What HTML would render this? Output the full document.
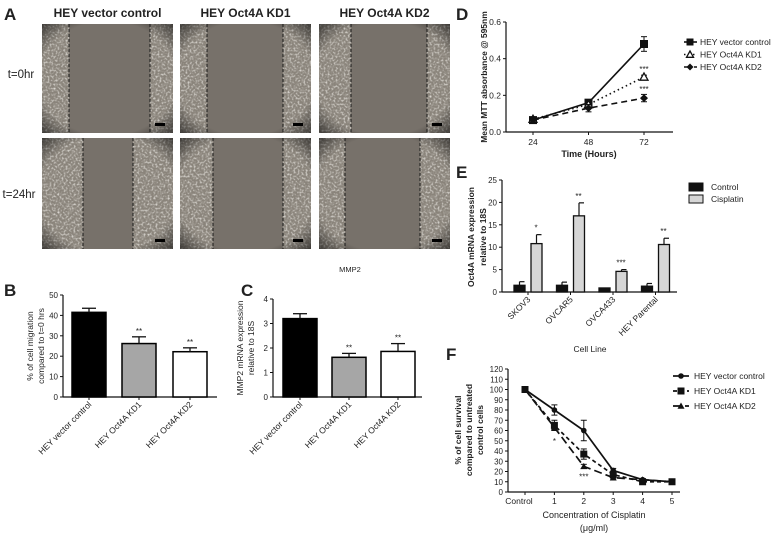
<!DOCTYPE html>
<html><head><meta charset="utf-8"><style>
html,body{margin:0;padding:0;background:#fff;width:778px;height:535px;overflow:hidden}
svg{display:block;font-family:"Liberation Sans",Arial,sans-serif}
</style></head><body>
<svg id="fig" width="778" height="535" viewBox="0 0 778 535" xmlns="http://www.w3.org/2000/svg">
<defs>
<filter id="tex" x="0" y="0" width="100%" height="100%">
<feTurbulence type="fractalNoise" baseFrequency="0.5" numOctaves="2" seed="3"/>
<feColorMatrix type="matrix" values="0 0 0 0 0.82  0 0 0 0 0.80  0 0 0 0 0.76  0 0 0 2.2 -1.0"/>
</filter>
<radialGradient id="vig" cx="50%" cy="50%" r="75%">
<stop offset="70%" stop-color="#000" stop-opacity="0"/>
<stop offset="100%" stop-color="#000" stop-opacity="0.7"/>
</radialGradient>
</defs>
</svg>
<script>
// ---------- data ----------
const bCats = ["HEY vector control","HEY Oct4A KD1","HEY Oct4A KD2"];
const bVals = [41.5, 26.2, 22.2];
const bErrs = [2.0, 3.3, 1.9];
const bStars = ["", "**", "**"];
const bTicks = [0,10,20,30,40,50];
const cVals = [3.2, 1.62, 1.86];
const cErrs = [0.2, 0.16, 0.32];
const cStars = ["", "**", "**"];
const cTicks = [0,1,2,3,4];
const dX = [24,48,72];
const dVector = [0.065,0.16,0.48];
const dVectorErr = [0.008,0.015,0.04];
const dKD1 = [0.07,0.15,0.30];
const dKD1Err = [0.006,0.01,0.01];
const dKD2 = [0.065,0.13,0.185];
const dKD2Err = [0.006,0.02,0.02];
const dTicks = [0.0,0.2,0.4,0.6];
const eCats = ["SKOV3","OVCAR5","OVCA433","HEY Parental"];
const eControl = [1.5,1.5,0.9,1.3];
const eControlErr = [0.8,0.7,0.0,0.6];
const eCis = [10.8,17.0,4.6,10.6];
const eCisErr = [2.0,2.9,0.4,1.4];
const eStars = ["*","**","***","**"];
const eTicks = [0,5,10,15,20,25];
const fCats = ["Control","1","2","3","4","5"];
const fVector = [100,80,60,21,12,10];
const fVectorErr = [0,5,10,2,1,1];
const fKD1 = [100,65,37,17,10,10];
const fKD1Err = [0,5,5,2,1,1];
const fKD2 = [100,63,25,14,12,10];
const fKD2Err = [0,3,2,1,1,1];
const fTicks = [0,10,20,30,40,50,60,70,80,90,100,110,120];

const NS="http://www.w3.org/2000/svg";
const svg=document.getElementById('fig');
function mk(tag,attrs,parent,text){const e=document.createElementNS(NS,tag);for(const k in attrs)e.setAttribute(k,attrs[k]);if(text!==undefined)e.textContent=text;(parent||svg).appendChild(e);return e;}
function grp(name){const g=mk('g',{});


return g;}
function txt(g,x,y,s,size,opts){opts=opts||{};const t=mk('text',{x:x,y:y,'font-size':size,'text-anchor':opts.anchor||'middle','font-weight':opts.bold?'bold':'normal',fill:'#222'},g,s);if(opts.rot!==undefined)t.setAttribute('transform','rotate('+opts.rot+' '+x+' '+y+')');return t;}
function line(g,x1,y1,x2,y2,w,dash){const l=mk('line',{x1:x1,y1:y1,x2:x2,y2:y2,stroke:'#111','stroke-width':w||1.2},g);if(dash)l.setAttribute('stroke-dasharray',dash);return l;}

// ---------- panel labels ----------
const labels=grp('panel-labels');
[["A",4,20],["B",4,296],["C",241,296],["D",456,20],["E",456,178],["F",446,360]].forEach(p=>txt(labels,p[1],p[2],p[0],17,{anchor:'start',bold:true}));

// ---------- panel A micrographs ----------
const A=grp('panel-a-micrographs');
const boxX=[42,180,319], boxW=131;
const rowY=[24,138], rowH=[109,111];
const dashes=[[[69,150],[83,133]],[[207,283],[213,283]],[[351,427],[345,420]]];
bCats.forEach((c,i)=>txt(A,boxX[i]+boxW/2,17,c,12,{bold:true}));
txt(A,21,78,"t=0hr",11.5);txt(A,19,198,"t=24hr",11.5);
for(let i=0;i<3;i++)for(let r=0;r<2;r++){
 const x=boxX[i],y=rowY[r],h=rowH[r],d=dashes[i][r];
 const im=mk('g',{},A);
 
 
 mk('rect',{x:x,y:y,width:boxW,height:h,fill:'#77716a'},im);
 mk('rect',{x:x,y:y,width:d[0]-x,height:h,fill:'#8a847b'},im);
 mk('rect',{x:d[1],y:y,width:x+boxW-d[1],height:h,fill:'#8a847b'},im);
 mk('rect',{x:x,y:y,width:d[0]-x,height:h,filter:'url(#tex)'},im);
 mk('rect',{x:d[1],y:y,width:x+boxW-d[1],height:h,filter:'url(#tex)'},im);
 mk('rect',{x:x,y:y,width:boxW,height:h,fill:'url(#vig)'},im);
 line(im,d[0],y,d[0],y+h,0.9,'3,2');line(im,d[1],y,d[1],y+h,0.9,'3,2');
 mk('rect',{x:x+boxW-18,y:y+h-10,width:10,height:3,fill:'#000'},im);
}
txt(A,350,272,"MMP2",7.5);

// ---------- bar chart helper (B, C) ----------
function barPanel(name,ax,vals,errs,stars,ticks,ymax,yTitle,xLeft,xRight,bars){
 const g=grp(name);
 const y0=397,y1=(name==='panel-b-migration')?295:299;
 const ys=v=>y0-(v/ymax)*(y0-y1);
 line(g,xLeft,y0,xLeft,y1,1.2);line(g,xLeft,y0,xRight,y0,1.2);
 ticks.forEach(t=>{line(g,xLeft-3,ys(t),xLeft,ys(t),1);txt(g,xLeft-5,ys(t)+3,String(t),8,{anchor:'end'});});
 const fills=['#000','#a6a6a6','#fff'];
 vals.forEach((v,i)=>{
  const bx=bars[i], bw=34, cx=bx+bw/2;
  const b=mk('rect',{x:bx,y:ys(v),width:bw,height:y0-ys(v),fill:fills[i],stroke:'#000','stroke-width':1.5},g);
  
  
  line(g,cx,ys(v),cx,ys(v+errs[i]),1.3);line(g,cx-7,ys(v+errs[i]),cx+7,ys(v+errs[i]),1.3);
  if(stars[i])txt(g,cx,ys(v+errs[i])-3,stars[i],8);
  line(g,cx,y0,cx,y0+3,1);
  txt(g,cx+3,y0+8,bCats[i],8.5,{anchor:'end',rot:-45});
 });
 yTitle.forEach((s,k)=>txt(g,xLeft-30+k*11,(y0+y1)/2,s,8.5,{rot:-90}));
 return g;
}
barPanel('panel-b-migration','B',bVals,bErrs,bStars,bTicks,50,["% of cell migration","compared to t=0 hrs"],63,217,[72,122,173]);
barPanel('panel-c-mmp2','C',cVals,cErrs,cStars,cTicks,4,["MMP2 mRNA expression","relative to 18S"],273,422,[283,332,381]);

function marker(g,t,x,y,r){
 if(t==='sq')mk('rect',{x:x-r,y:y-r,width:2*r,height:2*r,fill:'#111'},g);
 else if(t==='tri')mk('polygon',{points:`${x},${y-r} ${x-r},${y+r*0.8} ${x+r},${y+r*0.8}`,fill:'#fff',stroke:'#111','stroke-width':1.3},g);
 else if(t==='dia')mk('polygon',{points:`${x},${y-r} ${x+r},${y} ${x},${y+r} ${x-r},${y}`,fill:'#111'},g);
 else if(t==='dot')mk('circle',{cx:x,cy:y,r:r*0.8,fill:'#111'},g);
 else if(t==='tri2')mk('polygon',{points:`${x},${y-r} ${x-r},${y+r*0.8} ${x+r},${y+r*0.8}`,fill:'#111'},g);
}

// ---------- panel D ----------
(function(){
 const g=grp('panel-d-mtt');
 const xl=506,xr=673,y0=132,y1=22;
 const xs=v=>533+(v-24)/24*55.5, ys=v=>y0-v/0.6*(y0-y1);
 line(g,xl,y0,xl,y1,1.2);line(g,xl,y0,xr,y0,1.2);
 dTicks.forEach(t=>{line(g,xl-3,ys(t),xl,ys(t),1);txt(g,xl-5,ys(t)+3,t.toFixed(1),8.5,{anchor:'end'});});
 dX.forEach(v=>{line(g,xs(v),y0,xs(v),y0+3,1);txt(g,xs(v),y0+13,String(v),8.5);});
 txt(g,589,157,"Time (Hours)",9,{bold:true});
 txt(g,487,77,"Mean MTT absorbance @ 595nm",8.5,{bold:true,rot:-90});
 const series=[[dVector,dVectorErr,'none','sq','vector'],[dKD1,dKD1Err,'1.5,3','tri','kd1'],[dKD2,dKD2Err,'6,4','dia','kd2']];
 series.forEach(s=>{
  const pts=s[0].map((v,i)=>xs(dX[i])+','+ys(v)).join(' ');
  const pl=mk('polyline',{points:pts,fill:'none',stroke:'#111','stroke-width':1.6},g);
  if(s[2]!=='none')pl.setAttribute('stroke-dasharray',s[2]);
  
  
  s[0].forEach((v,i)=>{const x=xs(dX[i]),y=ys(v);
   line(g,x,ys(v-s[1][i]),x,ys(v+s[1][i]),1);line(g,x-3,ys(v+s[1][i]),x+3,ys(v+s[1][i]),1);line(g,x-3,ys(v-s[1][i]),x+3,ys(v-s[1][i]),1);
   marker(g,s[3],x,y,4);});
 });
 txt(g,xs(72),ys(dKD1[2])-5,"***",8);txt(g,xs(72),ys(dKD2[2])-6,"***",8);
 const lg=[["HEY vector control",'sq','none'],["HEY Oct4A KD1",'tri','1.5,3'],["HEY Oct4A KD2",'dia','6,4']];
 lg.forEach((l,k)=>{const y=42+k*12.5;const e=grp('legend-entry-d-'+(k+1));g.appendChild(e);
  line(e,684,y,697,y,1.6,l[2]==='none'?null:l[2]);marker(e,l[1],690,y,3.5);txt(e,700,y+3,l[0],8.5,{anchor:'start'});});
})();

// ---------- panel E ----------
(function(){
 const g=grp('panel-e-oct4a');
 const xl=502,xr=677,y0=292,y1=180;
 const ys=v=>y0-v/25*(y0-y1);
 line(g,xl,y0,xl,y1,1.2);line(g,xl,y0,xr,y0,1.2);
 eTicks.forEach(t=>{line(g,xl-3,ys(t),xl,ys(t),1);txt(g,xl-5,ys(t)+3,String(t),8,{anchor:'end'});});
 eCats.forEach((c,i)=>{
  const gx=514+i*42.5;
  [[eControl,eControlErr,'#111',gx,'control'],[eCis,eCisErr,'#d6d6d6',gx+17,'cisplatin']].forEach(s=>{
   const v=s[0][i],e=s[1][i],x=s[3],cx=x+5.5;
   const b=mk('rect',{x:x,y:ys(v),width:11,height:y0-ys(v),fill:s[2],stroke:'#111','stroke-width':1.3},g);
   
   
   if(e>0){line(g,cx,ys(v),cx,ys(v+e),1.2);line(g,cx,ys(v+e),cx+5,ys(v+e),1.2);}
  });
  txt(g,gx+22,ys(eCis[i]+eCisErr[i])-4,eStars[i],8);
  line(g,gx+14,y0,gx+14,y0+3,1);
  txt(g,gx+17,y0+8,c,8.5,{anchor:'end',rot:-45});
 });
 txt(g,590,352,"Cell Line",8.5);
 txt(g,474,237,"Oct4A mRNA expression",8.5,{bold:true,rot:-90});
 txt(g,486,237,"relative to 18S",8.5,{bold:true,rot:-90});
 [["Control",'#111',187],["Cisplatin",'#d6d6d6',199]].forEach((l,k)=>{const e=grp('legend-entry-e-'+(k+1));g.appendChild(e);
  mk('rect',{x:689,y:l[2]-4,width:14,height:8,fill:l[1],stroke:'#111','stroke-width':1},e);txt(e,711,l[2]+3,l[0],8.5,{anchor:'start'});});
})();

// ---------- panel F ----------
(function(){
 const g=grp('panel-f-survival');
 const xl=508,xr=680,y0=492,y1=369;
 const xs=i=>525+i*29.4, ys=v=>y0-v/120*(y0-y1);
 line(g,xl,y0,xl,y1,1.2);line(g,xl,y0,xr,y0,1.2);
 fTicks.forEach(t=>{line(g,xl-3,ys(t),xl,ys(t),1);txt(g,xl-5,ys(t)+3,String(t),8,{anchor:'end'});});
 fCats.forEach((c,i)=>{line(g,xs(i),y0,xs(i),y0+3,1);txt(g,i===0?xs(i)-6:xs(i),y0+12,c,8.5);});
 txt(g,594,518,"Concentration of Cisplatin",9);txt(g,594,531,"(\u03bcg/ml)",9);
 ["% of cell survival","compared to untreated","control cells"].forEach((s,k)=>txt(g,461+k*11,430,s,8.5,{bold:true,rot:-90}));
 const series=[[fVector,fVectorErr,'none','dot','vector'],[fKD1,fKD1Err,'4,3','sq','kd1'],[fKD2,fKD2Err,'8,4','tri2','kd2']];
 series.forEach(s=>{
  const pts=s[0].map((v,i)=>xs(i)+','+ys(v)).join(' ');
  const pl=mk('polyline',{points:pts,fill:'none',stroke:'#111','stroke-width':1.7},g);
  if(s[2]!=='none')pl.setAttribute('stroke-dasharray',s[2]);
  
  
  s[0].forEach((v,i)=>{const x=xs(i),e=s[1][i];
   if(e>0){line(g,x,ys(v-e),x,ys(v+e),1);line(g,x-3,ys(v+e),x+3,ys(v+e),1);line(g,x-3,ys(v-e),x+3,ys(v-e),1);}
   marker(g,s[3],x,ys(v),3.5);});
 });
 txt(g,xs(1),ys(50)+3,"*",8);txt(g,xs(2),ys(15)+3,"***",8);
 [["HEY vector control",'dot','none'],["HEY Oct4A KD1",'sq','4,3'],["HEY Oct4A KD2",'tri2','8,4']].forEach((l,k)=>{const y=376+k*15;const e=grp('legend-entry-f-'+(k+1));g.appendChild(e);
  line(e,673,y,689,y,1.7,l[2]==='none'?null:l[2]);marker(e,l[1],681,y,3.5);txt(e,694,y+3,l[0],8.5,{anchor:'start'});});
})();
</script>
</body></html>
